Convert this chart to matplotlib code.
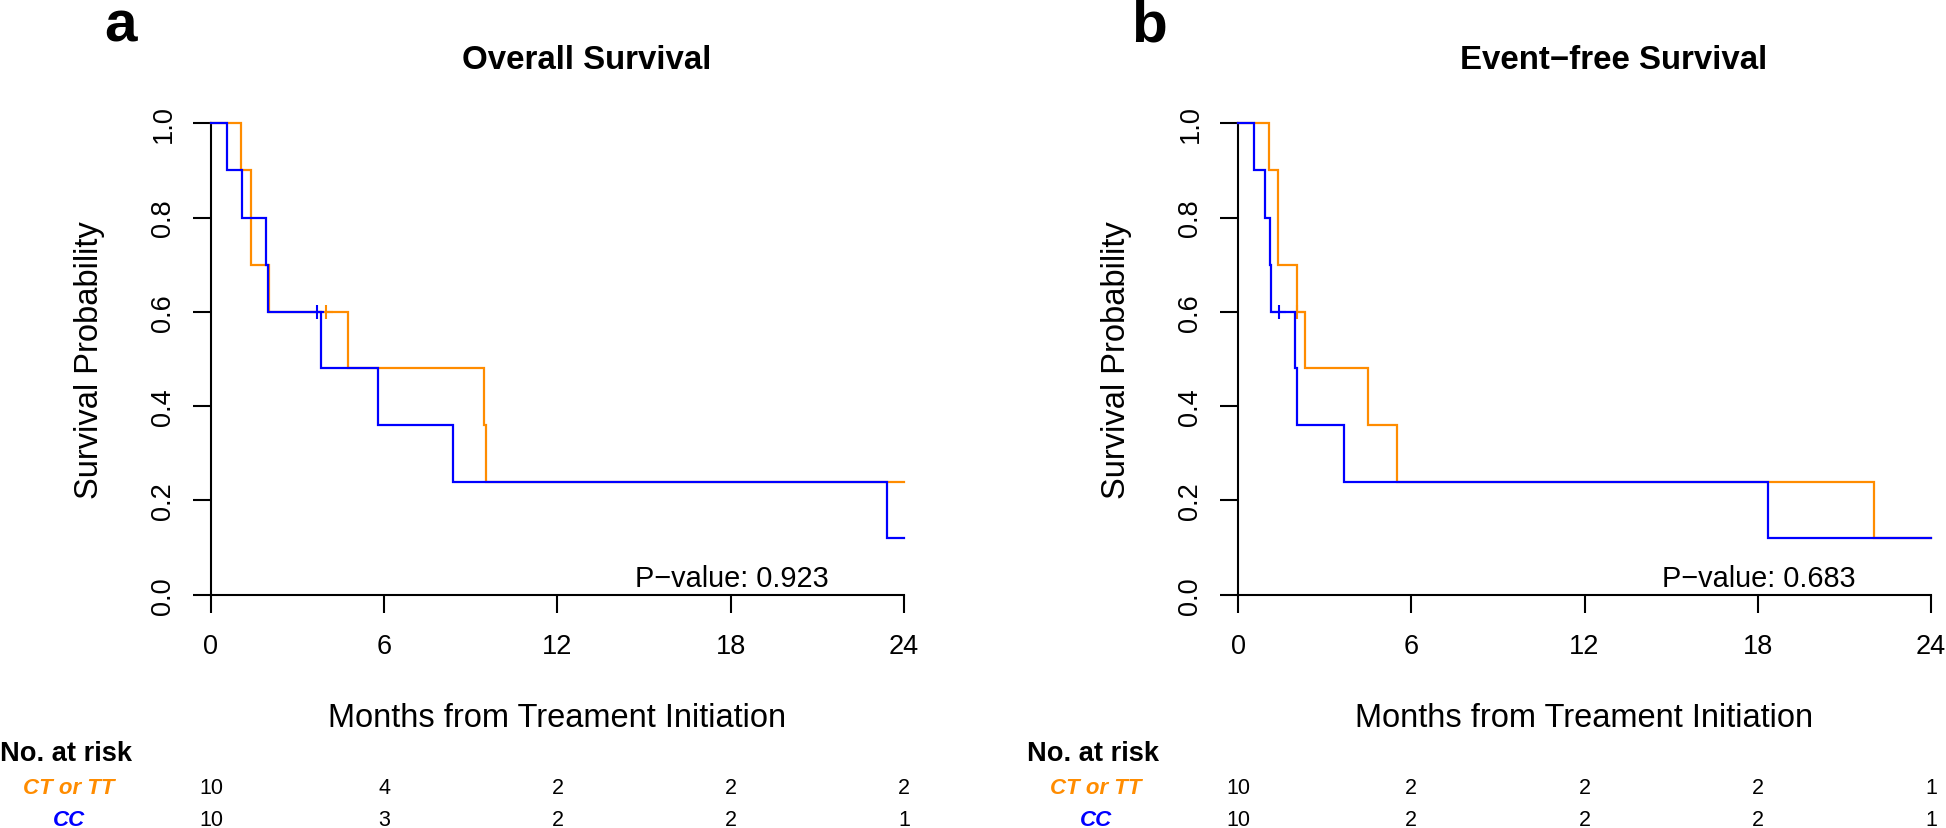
import matplotlib
matplotlib.use("Agg")
import matplotlib.pyplot as plt
import numpy as np

plt.rcParams['font.family'] = ['Liberation Sans', 'DejaVu Sans']

# ---------------- data ----------------
group_names = ["CT or TT", "CC"]
group_colors = ["#FF8C00", "#0000FF"]

# Overall survival
os_ct_times = [0, 1.04, 1.39, 2.02, 4.73, 9.47, 9.53, 24]
os_ct_surv = [1.0, 0.9, 0.7, 0.6, 0.48, 0.36, 0.24, 0.24]
os_ct_cens = [3.98]
os_cc_times = [0, 0.57, 1.09, 1.89, 1.99, 3.82, 5.77, 8.37, 23.43, 24]
os_cc_surv = [1.0, 0.9, 0.8, 0.7, 0.6, 0.48, 0.36, 0.24, 0.12, 0.12]
os_cc_cens = [3.68]
os_pvalue = "0.923"
os_risk_ct = [10, 4, 2, 2, 2]
os_risk_cc = [10, 3, 2, 2, 1]

# Event-free survival
efs_ct_times = [0, 1.06, 1.37, 2.03, 2.31, 4.49, 5.49, 22.03, 24]
efs_ct_surv = [1.0, 0.9, 0.7, 0.6, 0.48, 0.36, 0.24, 0.12, 0.12]
efs_ct_cens = [2.05]
efs_cc_times = [0, 0.57, 0.95, 1.10, 1.14, 1.99, 2.03, 3.68, 18.35, 24]
efs_cc_surv = [1.0, 0.9, 0.8, 0.7, 0.6, 0.48, 0.36, 0.24, 0.12, 0.12]
efs_cc_cens = [1.41]
efs_pvalue = "0.683"
efs_risk_ct = [10, 2, 2, 2, 1]
efs_risk_cc = [10, 2, 2, 2, 1]

x_ticks = [0, 6, 12, 18, 24]
y_ticks = [0.0, 0.2, 0.4, 0.6, 0.8, 1.0]
y_tick_labels = ["0.0", "0.2", "0.4", "0.6", "0.8", "1.0"]
titles = ["Overall Survival", "Event\u2212free Survival"]
panel_letters = ["a", "b"]
xlabel = "Months from Treament Initiation"
ylabel = "Survival Probability"

# ---------------- layout ----------------
W, H = 1946, 829
fig = plt.figure(figsize=(W / 100, H / 100), dpi=100)

XLIM = (-1.0, 25.0)
YLIM = (-0.04, 1.04)


def make_axes(x0_px, slope_px):
    y0_px = 595.7  # from top, y=0
    y1_px = 124.3  # y=1
    yslope = y0_px - y1_px
    left = x0_px + XLIM[0] * slope_px
    width = (XLIM[1] - XLIM[0]) * slope_px
    bottom = (H - y0_px) + YLIM[0] * yslope
    height = (YLIM[1] - YLIM[0]) * yslope
    ax = fig.add_axes([left / W, bottom / H, width / W, height / H])
    ax.set_xlim(*XLIM)
    ax.set_ylim(*YLIM)
    ax.patch.set_alpha(0)
    return ax


def step_value(times, surv, t):
    idx = np.searchsorted(times, t, side='right') - 1
    return surv[idx]


def draw_panel(ax, x0_px, slope_px, curves, pvalue, risks, title, letter):
    for (times, surv, cens), color in zip(curves, group_colors):
        ax.step(times, surv, where='post', color=color, lw=1.6,
                solid_joinstyle='miter', zorder=3)
        cy = [step_value(times, surv, c) for c in cens]
        ax.plot(cens, cy, linestyle='none', marker='+', ms=9.5, mew=1.5,
                color=color, zorder=3)

    for s in ['top', 'right']:
        ax.spines[s].set_visible(False)
    ax.spines['left'].set_position(('data', 0))
    ax.spines['bottom'].set_position(('data', 0))
    ax.spines['left'].set_bounds(0, 1)
    ax.spines['bottom'].set_bounds(0, 24)
    for s in ['left', 'bottom']:
        ax.spines[s].set_linewidth(1.5)
    ax.set_xticks(x_ticks)
    ax.set_xticklabels([str(v) for v in x_ticks], fontsize=19.5)
    ax.set_yticks(y_ticks)
    ax.set_yticklabels(y_tick_labels, rotation=90, va='center', fontsize=19.5)
    ax.tick_params(axis='both', direction='out', length=12.9, width=1.5)
    ax.tick_params(axis='x', pad=15)
    ax.tick_params(axis='y', pad=12)

    def px(t):
        return x0_px + slope_px * t

    def fy(ytop):
        return (H - ytop) / H

    # p-value
    ax.text(21.4, 0.018, "P\u2212value: " + pvalue, ha='right',
            va='baseline', fontsize=20.8)
    # title
    fig.text(px(13.0) / W, fy(69), title, ha='center', va='baseline',
             fontsize=23.8, fontweight='bold')
    # panel letter
    fig.text((x0_px - 107) / W, fy(41), letter, ha='left', va='baseline',
             fontsize=42, fontweight='bold')
    # axis labels
    fig.text(px(12) / W, fy(726.7), xlabel, ha='center', va='baseline',
             fontsize=23.5)
    fig.text((x0_px - 121) / W, fy(360), ylabel, ha='center', va='center',
             rotation=90, fontsize=23.5)
    # risk table
    fig.text((x0_px - 211) / W, fy(761), "No. at risk", ha='left',
             va='baseline', fontsize=19.6, fontweight='bold')
    row_y = [794.3, 826.5]
    for name, color, counts, ry in zip(group_names, group_colors, risks, row_y):
        fig.text((x0_px - 142) / W, fy(ry), name, ha='center', va='baseline',
                 fontsize=16, fontweight='bold', fontstyle='italic',
                 color=color)
        for t, n in zip(x_ticks, counts):
            fig.text(px(t) / W, fy(ry), str(n), ha='center', va='baseline',
                     fontsize=15.5)


ax_a = make_axes(211.0, 28.87)
draw_panel(ax_a, 211.0, 28.87,
           [(os_ct_times, os_ct_surv, os_ct_cens),
            (os_cc_times, os_cc_surv, os_cc_cens)],
           os_pvalue, [os_risk_ct, os_risk_cc], titles[0], panel_letters[0])

ax_b = make_axes(1238.0, 28.875)
draw_panel(ax_b, 1238.0, 28.875,
           [(efs_ct_times, efs_ct_surv, efs_ct_cens),
            (efs_cc_times, efs_cc_surv, efs_cc_cens)],
           efs_pvalue, [efs_risk_ct, efs_risk_cc], titles[1], panel_letters[1])

fig.savefig("out.png", dpi=100)
